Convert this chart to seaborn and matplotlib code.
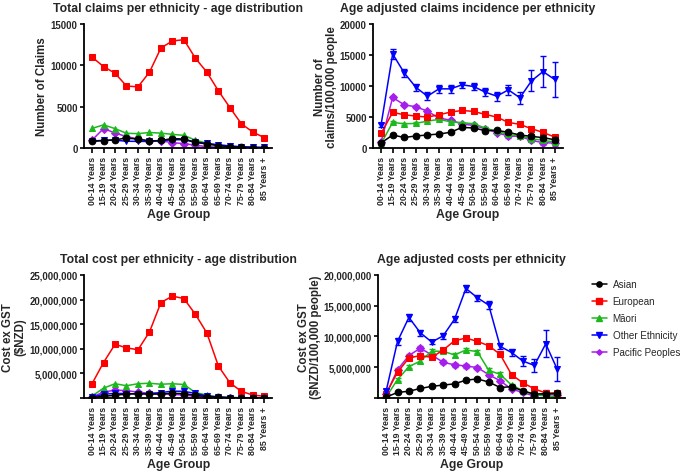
import numpy as np
import pandas as pd
import matplotlib
matplotlib.use("Agg")
import matplotlib.pyplot as plt
from matplotlib.lines import Line2D
from matplotlib.ticker import FuncFormatter
import seaborn as sns

ages = ["00-14 Years", "15-19 Years", "20-24 Years", "25-29 Years", "30-34 Years",
        "35-39 Years", "40-44 Years", "45-49 Years", "50-54 Years", "55-59 Years",
        "60-64 Years", "65-69 Years", "70-74 Years", "75-79 Years", "80-84 Years",
        "85 Years +"]
ethnicities = ["Asian", "European", "Māori", "Other Ethnicity", "Pacific Peoples"]

# Panel A: total claims
claims_asian = [800, 900, 1000, 1200, 1080, 850, 910, 1150, 1080, 700, 480, 300, 150, 80, 40, 30]
claims_european = [11000, 9850, 9050, 7500, 7400, 9170, 12100, 12950, 13100, 10860, 9170, 6920, 4900, 2930, 1930, 1250]
claims_maori = [2370, 2800, 2350, 1780, 1740, 1880, 1800, 1650, 1530, 950, 580, 240, 120, 60, 30, 20]
claims_other = [850, 930, 950, 820, 800, 800, 880, 1000, 1000, 700, 560, 400, 250, 160, 120, 80]
claims_pacific = [950, 2350, 1820, 1380, 1100, 860, 880, 640, 540, 330, 170, 90, 50, 30, 20, 10]

# Panel B: age adjusted claims incidence (per 100,000)
inc_asian = [810, 2100, 1700, 1940, 2100, 2260, 2530, 3330, 3230, 2800, 2850, 2530, 2100, 1880, 1670, 1340]
inc_european = [2360, 5740, 5360, 5150, 4990, 5360, 5790, 6060, 5900, 5420, 4990, 4130, 3810, 3110, 2520, 1770]
inc_maori = [700, 4130, 3910, 3970, 4340, 4610, 4240, 4080, 3910, 3220, 2680, 2200, 1930, 1500, 1230, 960]
inc_other = [3750, 15170, 12120, 9800, 8360, 9540, 9540, 10190, 9920, 9010, 8360, 9380, 8100, 10830, 12330, 11050]
inc_pacific = [960, 8150, 6970, 6650, 5950, 4830, 4500, 3860, 3650, 3110, 2470, 1930, 1880, 1230, 860, 800]
inc_asian_err = [100, 150, 150, 150, 150, 150, 150, 150, 150, 150, 150, 200, 200, 300, 350, 400]
inc_european_err = [100, 150, 150, 150, 150, 150, 150, 150, 150, 150, 150, 150, 150, 200, 250, 300]
inc_maori_err = [100, 150, 150, 150, 150, 150, 150, 150, 150, 150, 150, 150, 200, 250, 300, 350]
inc_other_err = [300, 800, 700, 600, 600, 600, 600, 500, 500, 600, 700, 800, 1000, 1700, 2500, 2800]
inc_pacific_err = [150, 300, 250, 250, 250, 200, 200, 200, 200, 200, 200, 250, 250, 300, 350, 400]

# Panel C: total cost ($NZD)
cost_asian = [0.1e6, 0.35e6, 0.55e6, 0.8e6, 0.9e6, 0.8e6, 0.8e6, 0.95e6, 0.9e6, 0.55e6, 0.3e6, 0.15e6, 0.07e6, 0.04e6, 0.03e6, 0.02e6]
cost_european = [2.9e6, 7.2e6, 10.9e6, 10.2e6, 9.8e6, 13.4e6, 19.4e6, 20.7e6, 20.2e6, 17.0e6, 13.2e6, 6.5e6, 3.1e6, 1.35e6, 0.6e6, 0.35e6]
cost_maori = [0.4e6, 2.0e6, 2.9e6, 2.5e6, 2.9e6, 3.0e6, 2.8e6, 2.9e6, 2.75e6, 1.1e6, 0.6e6, 0.2e6, 0.07e6, 0.03e6, 0.02e6, 0.02e6]
cost_other = [0.2e6, 0.75e6, 0.95e6, 0.9e6, 0.8e6, 0.9e6, 1.1e6, 1.4e6, 1.35e6, 0.95e6, 0.4e6, 0.2e6, 0.08e6, 0.06e6, 0.05e6, 0.03e6]
cost_pacific = [0.2e6, 1.2e6, 1.6e6, 1.5e6, 1.2e6, 0.95e6, 0.9e6, 0.75e6, 0.6e6, 0.35e6, 0.15e6, 0.07e6, 0.04e6, 0.03e6, 0.02e6, 0.01e6]

# Panel D: age adjusted costs (per 100,000)
acost_asian = [0.15e6, 0.9e6, 1.1e6, 1.55e6, 1.9e6, 2.1e6, 2.3e6, 2.9e6, 3.1e6, 2.6e6, 1.7e6, 1.85e6, 1.15e6, 0.65e6, 0.7e6, 0.75e6]
acost_european = [0.7e6, 4.2e6, 6.5e6, 6.9e6, 6.6e6, 7.8e6, 9.3e6, 9.75e6, 9.2e6, 8.5e6, 7.1e6, 3.8e6, 2.45e6, 1.5e6, 0.8e6, 0.8e6]
acost_maori = [0.15e6, 3.0e6, 5.1e6, 6.0e6, 7.6e6, 7.6e6, 7.0e6, 7.8e6, 7.55e6, 4.5e6, 3.85e6, 2.1e6, 1.2e6, 0.5e6, 0.35e6, 0.25e6]
acost_other = [1.1e6, 9.2e6, 13.1e6, 10.6e6, 9.1e6, 10.1e6, 12.8e6, 17.8e6, 16.3e6, 15.1e6, 8.4e6, 7.4e6, 6.0e6, 5.3e6, 8.8e6, 4.7e6]
acost_pacific = [0.6e6, 4.6e6, 6.9e6, 8.1e6, 7.0e6, 5.8e6, 5.4e6, 5.2e6, 4.95e6, 3.8e6, 2.8e6, 1.45e6, 0.9e6, 0.3e6, 0.7e6, 0.45e6]
acost_asian_err = [0.1e6, 0.15e6, 0.15e6, 0.15e6, 0.15e6, 0.15e6, 0.15e6, 0.2e6, 0.2e6, 0.2e6, 0.15e6, 0.2e6, 0.2e6, 0.2e6, 0.3e6, 0.3e6]
acost_european_err = [0.1e6, 0.2e6, 0.2e6, 0.2e6, 0.2e6, 0.2e6, 0.2e6, 0.2e6, 0.2e6, 0.2e6, 0.2e6, 0.2e6, 0.2e6, 0.2e6, 0.2e6, 0.3e6]
acost_maori_err = [0.1e6, 0.25e6, 0.3e6, 0.3e6, 0.3e6, 0.3e6, 0.3e6, 0.3e6, 0.3e6, 0.3e6, 0.3e6, 0.25e6, 0.2e6, 0.2e6, 0.2e6, 0.2e6]
acost_other_err = [0.3e6, 0.6e6, 0.6e6, 0.5e6, 0.4e6, 0.5e6, 0.5e6, 0.5e6, 0.5e6, 0.6e6, 0.5e6, 0.6e6, 0.8e6, 1.0e6, 2.2e6, 1.9e6]
acost_pacific_err = [0.1e6, 0.3e6, 0.3e6, 0.4e6, 0.3e6, 0.3e6, 0.3e6, 0.3e6, 0.3e6, 0.3e6, 0.2e6, 0.2e6, 0.2e6, 0.2e6, 0.6e6, 0.3e6]

colors = {"Asian": "#000000", "European": "#FF0000", "Māori": "#1DB81D",
          "Other Ethnicity": "#0000FF", "Pacific Peoples": "#A61EEB"}
markers = {"Asian": "o", "European": "s", "Māori": "^",
           "Other Ethnicity": "v", "Pacific Peoples": "D"}
msizes = {"Asian": 4.8, "European": 4.8, "Māori": 4.8, "Other Ethnicity": 4.8, "Pacific Peoples": 3.8}
draw_order = ["Pacific Peoples", "Māori", "European", "Other Ethnicity", "Asian"]

sns.set_theme(style="ticks")
plt.rcParams["font.family"] = ["Liberation Sans", "DejaVu Sans"]
plt.rcParams["font.weight"] = "bold"
plt.rcParams["axes.labelweight"] = "bold"

fig = plt.figure(figsize=(6.85, 4.77), dpi=100)
ax_a = fig.add_axes([0.1226, 0.6876, 0.275, 0.26])
ax_b = fig.add_axes([0.5445, 0.6876, 0.277, 0.26])
ax_c = fig.add_axes([0.1226, 0.1635, 0.275, 0.258])
ax_d = fig.add_axes([0.552, 0.1635, 0.273, 0.258])

xpos = np.arange(len(ages))


def panel(ax, vals, errs, title, ylabel, ymax, yticks, fmt, ylabelpad):
    rows = []
    for eth in draw_order:
        for i, v in enumerate(vals[eth]):
            rows.append({"x": xpos[i], "y": v, "eth": eth})
    df = pd.DataFrame(rows)
    for eth in draw_order:
        sub = df[df["eth"] == eth]
        sns.lineplot(data=sub, x="x", y="y", ax=ax, color=colors[eth], marker=markers[eth],
                     markersize=msizes[eth], markeredgecolor=colors[eth], linewidth=1.1,
                     legend=False, sort=False)
        if errs is not None:
            ax.errorbar(xpos, vals[eth], yerr=errs[eth], fmt="none", ecolor=colors[eth],
                        elinewidth=1.0, capsize=2.5, capthick=1.0)
    ax.set_xlim(-0.7, 15.7)
    ax.set_ylim(0, ymax)
    ax.set_yticks(yticks)
    ax.yaxis.set_major_formatter(FuncFormatter(fmt))
    ax.set_xticks(xpos)
    ax.set_xticklabels(ages, rotation=90, fontsize=6.3, fontweight="bold")
    for lab in ax.get_yticklabels():
        lab.set_fontsize(6.9)
        lab.set_fontweight("bold")
    ax.set_xlabel("Age Group", fontsize=8.8, fontweight="bold", labelpad=3)
    ax.set_ylabel(ylabel, fontsize=8.3, fontweight="bold", linespacing=1.05, labelpad=ylabelpad)
    ax.set_title(title, fontsize=8.8, fontweight="bold", pad=9)
    for s in ["top", "right"]:
        ax.spines[s].set_visible(False)
    for s in ["left", "bottom"]:
        ax.spines[s].set_linewidth(1.3)
        ax.spines[s].set_color("black")
    ax.tick_params(axis="x", width=1.2, length=3.5, color="black", pad=2)
    ax.tick_params(axis="y", width=1.2, length=3.0, color="black", pad=1.5)


plain = lambda v, p: f"{int(v)}"
comma_no0 = lambda v, p: "" if v == 0 else f"{int(v):,}"

panel(ax_a,
      {"Asian": claims_asian, "European": claims_european, "Māori": claims_maori,
       "Other Ethnicity": claims_other, "Pacific Peoples": claims_pacific},
      None, "Total claims per ethnicity - age distribution", "Number of Claims",
      15000, [0, 5000, 10000, 15000], plain, 2)

panel(ax_b,
      {"Asian": inc_asian, "European": inc_european, "Māori": inc_maori,
       "Other Ethnicity": inc_other, "Pacific Peoples": inc_pacific},
      {"Asian": inc_asian_err, "European": inc_european_err, "Māori": inc_maori_err,
       "Other Ethnicity": inc_other_err, "Pacific Peoples": inc_pacific_err},
      "Age adjusted claims incidence per ethnicity", "Number of\nclaims/100,000 people",
      20000, [0, 5000, 10000, 15000, 20000], plain, 1)

panel(ax_c,
      {"Asian": cost_asian, "European": cost_european, "Māori": cost_maori,
       "Other Ethnicity": cost_other, "Pacific Peoples": cost_pacific},
      None, "Total cost per ethnicity - age distribution", "Cost ex GST\n(\\$NZD)",
      25e6, [0, 5e6, 10e6, 15e6, 20e6, 25e6], comma_no0, 2)

panel(ax_d,
      {"Asian": acost_asian, "European": acost_european, "Māori": acost_maori,
       "Other Ethnicity": acost_other, "Pacific Peoples": acost_pacific},
      {"Asian": acost_asian_err, "European": acost_european_err, "Māori": acost_maori_err,
       "Other Ethnicity": acost_other_err, "Pacific Peoples": acost_pacific_err},
      "Age adjusted costs per ethnicity", "Cost ex GST\n(\\$NZD/100,000 people)",
      20e6, [0, 5e6, 10e6, 15e6, 20e6], comma_no0, 1)

handles = [Line2D([0], [0], color=colors[e], marker=markers[e], markersize=msizes[e] - 1,
                  linewidth=1.1) for e in ethnicities]
fig.legend(handles, ethnicities, loc="upper left", bbox_to_anchor=(0.864, 0.413),
           frameon=False, prop={"size": 7.1, "weight": "normal"}, handlelength=1.5,
           handletextpad=0.6, labelspacing=0.72, borderpad=0, borderaxespad=0)

fig.savefig("out.png", dpi=100)
